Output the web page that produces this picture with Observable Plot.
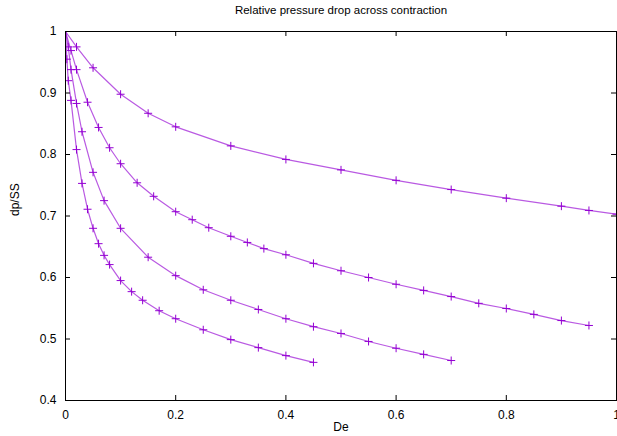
<!DOCTYPE html>
<html>
<head>
<meta charset="utf-8">
<script src="https://cdn.jsdelivr.net/npm/d3@7"></script>
<script src="https://cdn.jsdelivr.net/npm/@observablehq/plot@0.6"></script>
<style>
  body { margin: 0; background: #fff; font-family: "Liberation Sans", Arial, sans-serif; }
  #title { height: 20px; width: 617px; box-sizing: border-box; padding-left: 65px; text-align: center; font-size: 11.5px; line-height: 20px; color: #000; }
</style>
</head>
<body>
<div id="title">Relative pressure drop across contraction</div>
<div id="chart"></div>
<script>
const title = "Relative pressure drop across contraction";
const xLabel = "De";
const yLabel = "dp/SS";
const xTicks = [0, 0.2, 0.4, 0.6, 0.8, 1];
const yTicks = [0.4, 0.5, 0.6, 0.7, 0.8, 0.9, 1];

const de1 = [0, 0.02, 0.05, 0.1, 0.15, 0.2, 0.3, 0.4, 0.5, 0.6, 0.7, 0.8, 0.9, 0.95, 1.0];
const dp1 = [1, 0.975, 0.941, 0.898, 0.867, 0.845, 0.814, 0.792, 0.775, 0.758, 0.743, 0.729, 0.716, 0.709, 0.703];

const de2 = [0, 0.01, 0.02, 0.04, 0.06, 0.08, 0.1, 0.13, 0.16, 0.2, 0.23, 0.26, 0.3, 0.33, 0.36, 0.4, 0.45, 0.5, 0.55, 0.6, 0.65, 0.7, 0.75, 0.8, 0.85, 0.9, 0.95];
const dp2 = [1, 0.969, 0.938, 0.885, 0.844, 0.811, 0.785, 0.754, 0.732, 0.707, 0.694, 0.681, 0.667, 0.657, 0.647, 0.637, 0.623, 0.611, 0.600, 0.589, 0.579, 0.569, 0.558, 0.5496, 0.540, 0.530, 0.522];

const de3 = [0, 0.005, 0.01, 0.02, 0.03, 0.05, 0.07, 0.1, 0.15, 0.2, 0.25, 0.3, 0.35, 0.4, 0.45, 0.5, 0.55, 0.6, 0.65, 0.7];
const dp3 = [1, 0.975, 0.938, 0.883, 0.837, 0.771, 0.725, 0.680, 0.633, 0.603, 0.580, 0.563, 0.548, 0.533, 0.520, 0.509, 0.496, 0.485, 0.475, 0.465];

const de4 = [0, 0.0025, 0.005, 0.01, 0.02, 0.03, 0.04, 0.05, 0.06, 0.07, 0.08, 0.1, 0.12, 0.14, 0.17, 0.2, 0.25, 0.3, 0.35, 0.4, 0.45];
const dp4 = [1, 0.955, 0.920, 0.888, 0.808, 0.753, 0.711, 0.680, 0.655, 0.636, 0.621, 0.595, 0.577, 0.563, 0.546, 0.533, 0.515, 0.499, 0.486, 0.473, 0.462];

const series = [[de1, dp1], [de2, dp2], [de3, dp3], [de4, dp4]];
const data = series.flatMap(([xs, ys], k) => xs.map((x, i) => ({ s: k, x, y: ys[i] })));

const W = 617, H = 416;
const mL = 65, mR = 1, mT = 11, mB = 36;
const plotW = W - mL - mR, plotH = H - mT - mB;
const color = "#9400d3";
const tick = 5;

const chart = Plot.plot({
  width: W,
  height: H,
  marginLeft: mL,
  marginRight: mR,
  marginTop: mT,
  marginBottom: mB,
  style: { fontFamily: "'Liberation Sans', Arial, sans-serif", fontSize: "12px", color: "#000", background: "#fff", overflow: "visible" },
  x: { domain: [0, 1] },
  y: { domain: [0.4, 1] },
  marks: [
    Plot.line(data, { x: "x", y: "y", z: "s", stroke: color, strokeWidth: 1.2, strokeOpacity: 0.65, clip: true }),
    Plot.dot(data, { x: "x", y: "y", symbol: "plus", r: 2.7, stroke: color, strokeWidth: 1, clip: true }),
    Plot.tickX(xTicks, { x: d => d, insetTop: plotH - tick, stroke: "#000" }),
    Plot.tickX(xTicks, { x: d => d, insetBottom: plotH - tick, stroke: "#000" }),
    Plot.tickY(yTicks, { y: d => d, insetRight: plotW - tick, stroke: "#000" }),
    Plot.tickY(yTicks, { y: d => d, insetLeft: plotW - tick, stroke: "#000" }),
    Plot.axisX(xTicks, { tickSize: 0, tickPadding: 10, tickFormat: d => String(d), label: null, fontSize: 12 }),
    Plot.axisY(yTicks, { tickSize: 0, tickPadding: 9, tickFormat: d => String(d), label: null, fontSize: 12 }),
    Plot.text([xLabel], { text: d => d, frameAnchor: "bottom", dy: 30, fontSize: 12 }),
    Plot.text([yLabel], { text: d => d, frameAnchor: "left", dx: -50, rotate: -90, fontSize: 12 }),
    Plot.frame({ stroke: "#000", strokeWidth: 1 })
  ]
});
document.getElementById("chart").appendChild(chart);
</script>
</body>
</html>
